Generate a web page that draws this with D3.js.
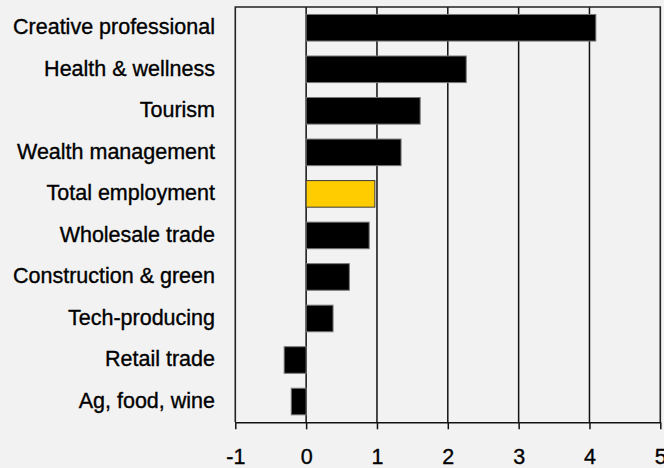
<!DOCTYPE html>
<html>
<head>
<meta charset="utf-8">
<script src="https://cdn.jsdelivr.net/npm/d3@7"></script>
<style>
  html, body { margin: 0; padding: 0; background: #f2f2f2; }
  svg { display: block; }
  text { font-family: "Liberation Sans", Arial, sans-serif; fill: #000; stroke: #000; stroke-width: 0.35px; }
</style>
</head>
<body>
<svg id="chart" width="664" height="468"></svg>
<script>
// Sectors, top to bottom
const categories = [
  "Creative professional",
  "Health & wellness",
  "Tourism",
  "Wealth management",
  "Total employment",
  "Wholesale trade",
  "Construction & green",
  "Tech-producing",
  "Retail trade",
  "Ag, food, wine"
];
// Growth values per sector
const values = [4.09, 2.26, 1.61, 1.34, 0.97, 0.89, 0.61, 0.38, -0.31, -0.21];
// The highlighted aggregate row
const highlight = ["Total employment"];
// X-axis ticks
const xTicks = [-1, 0, 1, 2, 3, 4, 5];

const svg = d3.select("#chart");
const plot = { left: 235.3, right: 660.3, top: 7, bottom: 422.3 };

const x = d3.scaleLinear().domain([-1, 5]).range([plot.left, plot.right]);
const y = d3.scaleBand()
  .domain(categories)
  .range([plot.top, plot.bottom])
  .paddingInner(0.36)
  .paddingOuter(0.18);

// Vertical gridlines
svg.append("g")
  .selectAll("line")
  .data(xTicks.filter(t => t > -1 && t < 5))
  .join("line")
  .attr("x1", d => x(d)).attr("x2", d => x(d))
  .attr("y1", plot.top).attr("y2", plot.bottom)
  .attr("stroke", "#111")
  .attr("stroke-width", 1.5);

// Bars
svg.append("g")
  .selectAll("rect")
  .data(categories.map((c, i) => ({ c, v: values[i] })))
  .join("rect")
  .attr("x", d => x(Math.min(0, d.v)))
  .attr("width", d => Math.abs(x(d.v) - x(0)))
  .attr("y", d => y(d.c))
  .attr("height", y.bandwidth())
  .attr("fill", d => highlight.includes(d.c) ? "#ffcc00" : "#000")
  .attr("stroke", d => highlight.includes(d.c) ? "#3a3a3a" : "#777")
  .attr("stroke-width", 1);

// Plot frame: left, top, right
svg.append("path")
  .attr("d", `M${plot.left},${plot.bottom}V${plot.top}H${plot.right}V${plot.bottom}`)
  .attr("fill", "none")
  .attr("stroke", "#222")
  .attr("stroke-width", 1.6);

// Bottom axis
const xAxis = svg.append("g")
  .attr("transform", `translate(0,${plot.bottom})`)
  .call(d3.axisBottom(x).tickValues(xTicks).tickSizeInner(7).tickSizeOuter(0).tickPadding(19).tickFormat(d3.format("d")));
xAxis.select(".domain").attr("stroke", "#111").attr("stroke-width", 1.6);
xAxis.selectAll(".tick line").attr("stroke", "#111").attr("stroke-width", 1.5);
xAxis.selectAll(".tick text")
  .attr("font-family", "Liberation Sans, Arial, sans-serif")
  .attr("font-size", "21.5px")
  .attr("fill", "#000")
  .text(d => d < 0 ? "-" + Math.abs(d) : String(d));

// Category labels
svg.append("g")
  .selectAll("text")
  .data(categories)
  .join("text")
  .attr("x", 215)
  .attr("y", d => y(d) + y.bandwidth() / 2)
  .attr("dy", "0.3em")
  .attr("text-anchor", "end")
  .attr("font-size", "21.5px")
  .text(d => d);
</script>
</body>
</html>
